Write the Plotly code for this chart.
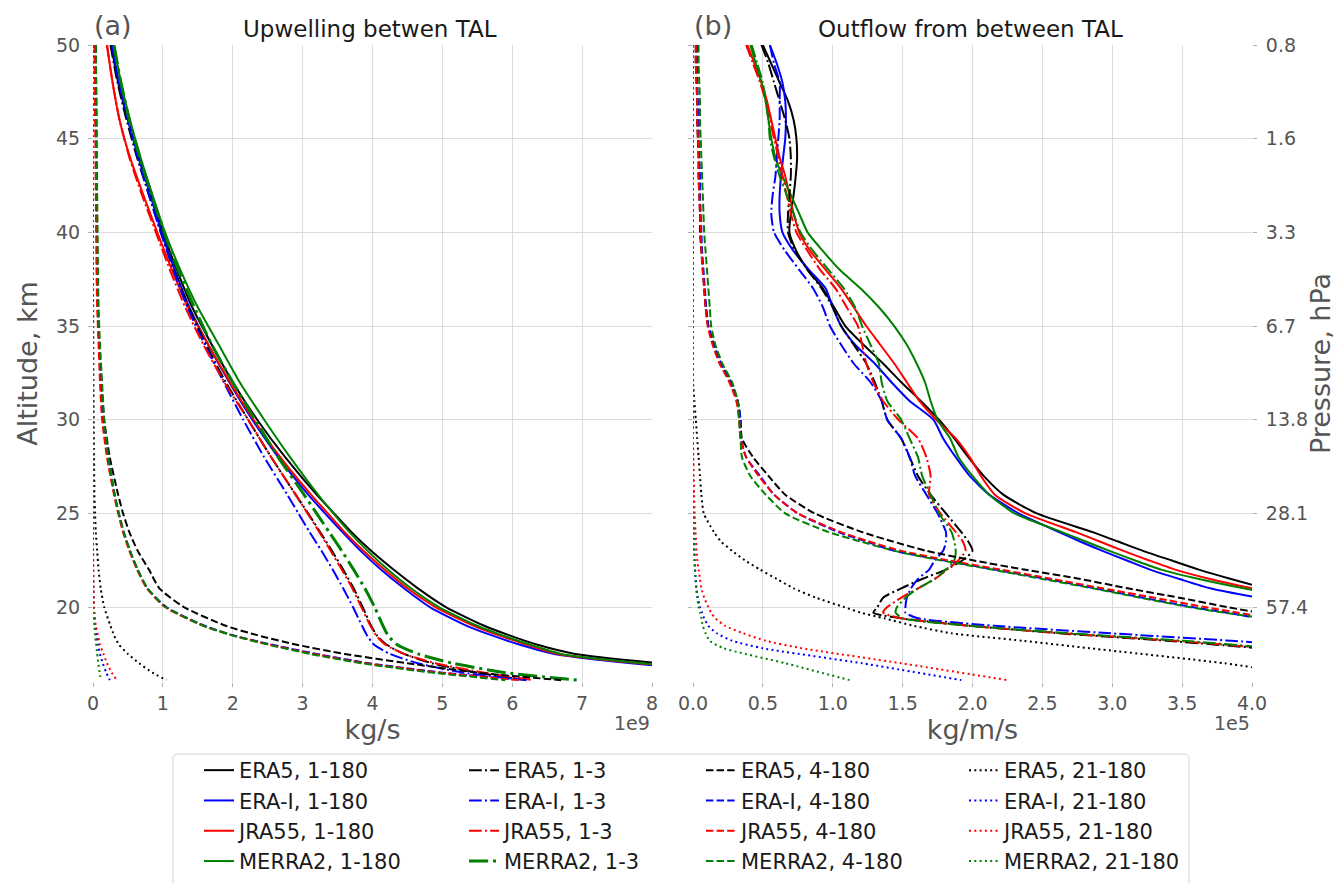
import plotly.graph_objects as go

W, H = 1336, 883

# ---------------- data ----------------
# Panel (a): altitude levels (km) and mass flux (units of 1e9 kg/s)
ALT_A = [50, 48, 46, 44, 42, 40, 38, 36, 34, 32, 30, 28, 26, 25, 24, 23, 22, 21, 20, 19, 18.5, 18, 17.5, 17, 16.5, 16.1]

A_ERA5_1_180 = [0.26, 0.36, 0.50, 0.66, 0.83, 1.00, 1.20, 1.42, 1.70, 2.00, 2.35, 2.75, 3.20, 3.45, 3.70, 3.98, 4.30, 4.65, 5.05, 5.60, 5.95, 6.35, 6.90, 8.10, 9.60, 11.5]
A_ERAI_1_180 = [0.27, 0.37, 0.50, 0.65, 0.82, 0.98, 1.17, 1.38, 1.65, 1.95, 2.28, 2.65, 3.08, 3.32, 3.57, 3.83, 4.12, 4.45, 4.82, 5.35, 5.70, 6.10, 6.60, 7.70, 9.20, 10.5]
A_JRA55_1_180 = [0.20, 0.28, 0.38, 0.53, 0.72, 0.92, 1.13, 1.36, 1.65, 1.96, 2.30, 2.68, 3.12, 3.36, 3.60, 3.87, 4.17, 4.50, 4.90, 5.45, 5.80, 6.20, 6.65, 7.80, 9.30, 10.6]
A_MERRA2_1_180 = [0.30, 0.40, 0.53, 0.68, 0.85, 1.03, 1.25, 1.50, 1.80, 2.10, 2.45, 2.82, 3.22, 3.44, 3.67, 3.93, 4.22, 4.55, 4.95, 5.50, 5.85, 6.25, 6.70, 7.85, 9.40, 10.7]

A_ERA5_1_3 = [0.25, 0.35, 0.48, 0.63, 0.80, 0.97, 1.16, 1.37, 1.62, 1.90, 2.22, 2.55, 2.90, 3.08, 3.25, 3.42, 3.58, 3.73, 3.86, 3.98, 4.06, 4.20, 4.45, 4.85, 5.50, 6.20]
A_ERAI_1_3 = [0.27, 0.37, 0.50, 0.64, 0.80, 0.97, 1.15, 1.35, 1.60, 1.87, 2.15, 2.45, 2.78, 2.94, 3.10, 3.27, 3.43, 3.58, 3.72, 3.85, 3.92, 4.02, 4.25, 4.65, 5.30, 6.20]
A_JRA55_1_3 = [0.20, 0.28, 0.38, 0.52, 0.70, 0.90, 1.10, 1.32, 1.58, 1.88, 2.22, 2.55, 2.90, 3.07, 3.24, 3.40, 3.56, 3.71, 3.84, 3.97, 4.05, 4.18, 4.45, 4.90, 5.60, 6.30]
A_MERRA2_1_3 = [0.30, 0.40, 0.52, 0.67, 0.84, 1.02, 1.22, 1.45, 1.70, 2.00, 2.32, 2.65, 3.02, 3.20, 3.38, 3.56, 3.73, 3.89, 4.03, 4.15, 4.22, 4.35, 4.65, 5.15, 5.90, 6.95]

A_ERA5_4_180 = [0.04, 0.045, 0.05, 0.05, 0.055, 0.06, 0.065, 0.07, 0.09, 0.12, 0.16, 0.24, 0.36, 0.43, 0.52, 0.64, 0.80, 0.95, 1.30, 1.90, 2.35, 2.90, 3.60, 4.50, 5.50, 6.70]
A_ERAI_4_180 = [0.03, 0.035, 0.04, 0.045, 0.05, 0.055, 0.06, 0.07, 0.09, 0.12, 0.15, 0.22, 0.31, 0.37, 0.44, 0.53, 0.64, 0.78, 1.05, 1.60, 2.00, 2.55, 3.20, 3.95, 5.00, 6.20]
A_JRA55_4_180 = [0.02, 0.025, 0.03, 0.035, 0.04, 0.045, 0.05, 0.06, 0.08, 0.10, 0.13, 0.20, 0.30, 0.36, 0.43, 0.52, 0.63, 0.77, 1.03, 1.58, 1.98, 2.52, 3.15, 3.90, 4.95, 6.10]
A_MERRA2_4_180 = [0.04, 0.045, 0.05, 0.055, 0.06, 0.065, 0.07, 0.08, 0.10, 0.13, 0.16, 0.22, 0.31, 0.37, 0.44, 0.53, 0.64, 0.78, 1.04, 1.58, 1.98, 2.50, 3.10, 3.85, 4.85, 5.90]

A_ERA5_21_180 = [0, 0, 0, 0, 0, 0, 0, 0.002, 0.004, 0.006, 0.01, 0.015, 0.02, 0.03, 0.04, 0.06, 0.08, 0.11, 0.16, 0.25, 0.30, 0.37, 0.50, 0.66, 0.85, 1.05]
A_ERAI_21_180 = [0, 0, 0, 0, 0, 0, 0, 0, 0, 0, 0, 0, 0, 0, 0, 0.001, 0.002, 0.005, 0.01, 0.03, 0.05, 0.07, 0.10, 0.14, 0.19, 0.24]
A_JRA55_21_180 = [0, 0, 0, 0, 0, 0, 0, 0, 0, 0, 0, 0, 0, 0, 0, 0.002, 0.004, 0.008, 0.015, 0.04, 0.07, 0.10, 0.15, 0.20, 0.27, 0.34]
A_MERRA2_21_180 = [0, 0, 0, 0, 0, 0, 0, 0, 0, 0, 0, 0, 0, 0, 0, 0, 0.001, 0.002, 0.005, 0.02, 0.03, 0.045, 0.06, 0.075, 0.095, 0.115]

# Panel (b): altitude levels (km) and outflow (units of 1e5 kg/m/s)
ALT_B = [50, 49, 48, 47, 46, 45, 44, 43, 42, 41, 40, 39, 38, 37, 36, 35, 34, 33, 32, 31, 30, 29, 28, 27, 26, 25,
         24, 23.5, 23, 22.5, 22, 21.5, 21, 20.5, 20, 19.7, 19.4, 19, 18.6, 18.2, 17.8, 17, 16.1]

B_ERA5_1_180 = [0.50, 0.56, 0.62, 0.68, 0.72, 0.74, 0.745, 0.735, 0.72, 0.70, 0.69, 0.74, 0.82, 0.93, 1.01, 1.09, 1.22, 1.36, 1.49, 1.63, 1.76, 1.87, 1.97, 2.08, 2.22, 2.46,
                2.86, 3.04, 3.22, 3.42, 3.62, 3.85, 4.10, 4.40, 4.80, 5.00, 5.30, 5.70, 6.10, 6.60, 7.10, 8.20, 10.0]
B_ERAI_1_180 = [0.55, 0.60, 0.64, 0.66, 0.665, 0.66, 0.645, 0.63, 0.62, 0.62, 0.64, 0.72, 0.83, 0.95, 1.00, 1.06, 1.16, 1.30, 1.42, 1.55, 1.72, 1.79, 1.88, 1.98, 2.12, 2.33,
                2.62, 2.77, 2.93, 3.10, 3.27, 3.48, 3.70, 4.05, 4.50, 4.75, 5.00, 5.40, 5.80, 6.30, 6.80, 8.00, 10.0]
B_JRA55_1_180 = [0.39, 0.44, 0.49, 0.53, 0.56, 0.59, 0.62, 0.66, 0.69, 0.72, 0.76, 0.84, 0.95, 1.06, 1.15, 1.24, 1.34, 1.44, 1.53, 1.62, 1.74, 1.88, 1.98, 2.06, 2.16, 2.38,
                 2.74, 2.91, 3.08, 3.26, 3.45, 3.70, 4.00, 4.35, 4.70, 4.95, 5.20, 5.60, 6.00, 6.50, 7.00, 8.10, 10.0]
B_MERRA2_1_180 = [0.41, 0.45, 0.49, 0.52, 0.54, 0.56, 0.59, 0.64, 0.70, 0.76, 0.82, 0.93, 1.05, 1.20, 1.33, 1.44, 1.53, 1.60, 1.66, 1.70, 1.75, 1.84, 1.90, 2.00, 2.12, 2.30,
                  2.64, 2.81, 2.98, 3.16, 3.35, 3.62, 3.94, 4.30, 4.60, 4.85, 5.10, 5.50, 5.90, 6.40, 6.90, 8.00, 10.0]

B_ERA5_1_3 = [0.49, 0.54, 0.58, 0.62, 0.66, 0.69, 0.70, 0.70, 0.69, 0.68, 0.68, 0.73, 0.82, 0.92, 1.00, 1.06, 1.15, 1.24, 1.30, 1.35, 1.39, 1.49, 1.55, 1.61, 1.70, 1.81,
              1.92, 1.97, 2.00, 1.93, 1.81, 1.64, 1.49, 1.36, 1.32, 1.29, 1.49, 1.98, 2.62, 3.39, 4.05, 5.00, 6.00]
B_ERAI_1_3 = [0.55, 0.58, 0.62, 0.62, 0.62, 0.61, 0.60, 0.59, 0.57, 0.56, 0.58, 0.66, 0.76, 0.86, 0.93, 0.98, 1.06, 1.15, 1.27, 1.35, 1.39, 1.49, 1.55, 1.59, 1.67, 1.75,
              1.81, 1.81, 1.79, 1.73, 1.69, 1.61, 1.56, 1.53, 1.52, 1.52, 1.61, 2.16, 2.99, 3.85, 4.60, 5.50, 6.50]
B_JRA55_1_3 = [0.38, 0.43, 0.48, 0.52, 0.55, 0.58, 0.61, 0.64, 0.67, 0.70, 0.74, 0.82, 0.91, 1.02, 1.10, 1.18, 1.21, 1.24, 1.29, 1.36, 1.47, 1.61, 1.67, 1.70, 1.69, 1.77,
               1.88, 1.93, 1.95, 1.90, 1.82, 1.73, 1.61, 1.49, 1.39, 1.36, 1.49, 1.98, 2.65, 3.45, 4.10, 5.00, 6.00]
B_MERRA2_1_3 = [0.42, 0.46, 0.50, 0.52, 0.54, 0.55, 0.58, 0.62, 0.67, 0.72, 0.77, 0.86, 0.97, 1.08, 1.16, 1.21, 1.27, 1.33, 1.35, 1.39, 1.49, 1.55, 1.61, 1.64, 1.70, 1.76,
                1.85, 1.87, 1.88, 1.87, 1.81, 1.73, 1.61, 1.52, 1.46, 1.45, 1.50, 1.98, 2.70, 3.51, 4.15, 5.00, 6.00]

B_ERA5_4_180 = [0.02, 0.02, 0.025, 0.03, 0.03, 0.035, 0.04, 0.04, 0.045, 0.05, 0.05, 0.06, 0.07, 0.08, 0.09, 0.11, 0.15, 0.20, 0.27, 0.32, 0.34, 0.35, 0.43, 0.54, 0.66, 0.87,
                1.21, 1.43, 1.67, 2.00, 2.37, 2.77, 3.11, 3.48, 3.82, 4.05, 4.30, 4.70, 5.10, 5.50, 5.90, 7.00, 8.50]
B_ERAI_4_180 = [0.03, 0.03, 0.03, 0.035, 0.04, 0.04, 0.045, 0.05, 0.05, 0.055, 0.06, 0.065, 0.075, 0.085, 0.095, 0.11, 0.15, 0.20, 0.27, 0.32, 0.34, 0.345, 0.38, 0.48, 0.58, 0.75,
                1.04, 1.24, 1.44, 1.79, 2.16, 2.53, 2.88, 3.22, 3.57, 3.82, 4.05, 4.45, 4.85, 5.25, 5.60, 6.60, 8.00]
B_JRA55_4_180 = [0.02, 0.02, 0.025, 0.03, 0.03, 0.035, 0.04, 0.04, 0.045, 0.05, 0.055, 0.06, 0.07, 0.08, 0.09, 0.105, 0.14, 0.19, 0.26, 0.31, 0.33, 0.34, 0.38, 0.47, 0.58, 0.75,
                 1.06, 1.26, 1.49, 1.82, 2.20, 2.57, 2.93, 3.30, 3.66, 3.90, 4.15, 4.55, 4.95, 5.35, 5.70, 6.70, 8.00]
B_MERRA2_4_180 = [0.04, 0.04, 0.045, 0.05, 0.05, 0.055, 0.06, 0.065, 0.07, 0.075, 0.08, 0.09, 0.10, 0.11, 0.12, 0.13, 0.16, 0.21, 0.28, 0.32, 0.33, 0.34, 0.35, 0.41, 0.52, 0.66,
                  0.97, 1.20, 1.44, 1.77, 2.14, 2.50, 2.86, 3.20, 3.55, 3.80, 4.10, 4.50, 4.90, 5.30, 5.65, 6.60, 8.00]

B_ERA5_21_180 = [0.0, 0.0, 0.0, 0.0, -0.005, -0.005, -0.005, -0.005, -0.01, -0.01, -0.01, -0.01, -0.01, -0.01, -0.01, -0.01, -0.01, -0.005, 0.0, 0.01, 0.02, 0.03, 0.04, 0.05, 0.06, 0.077,
                 0.15, 0.20, 0.28, 0.37, 0.48, 0.60, 0.72, 0.88, 1.08, 1.20, 1.37, 1.58, 1.85, 2.36, 2.84, 3.80, 4.60]
B_ERAI_21_180 = [0.0, 0.0, 0.0, 0.0, 0.0, 0.0, 0.0, 0.0, 0.0, 0.0, 0.0, 0.0, 0.0, 0.0, 0.0, 0.0, 0.0, 0.0, 0.0, 0.0, 0.0, 0.0, 0.0, 0.0, 0.0, 0.002,
                 0.005, 0.007, 0.01, 0.012, 0.015, 0.02, 0.025, 0.035, 0.05, 0.065, 0.08, 0.11, 0.17, 0.28, 0.50, 1.21, 1.92]
B_JRA55_21_180 = [0.0, 0.0, 0.0, 0.0, 0.0, 0.0, 0.0, 0.0, 0.0, 0.0, 0.0, 0.0, 0.0, 0.0, 0.0, 0.0, 0.0, 0.0, 0.0, 0.0, 0.0, 0.0, 0.002, 0.005, 0.008, 0.012,
                  0.018, 0.022, 0.025, 0.03, 0.04, 0.05, 0.06, 0.08, 0.11, 0.13, 0.16, 0.23, 0.36, 0.52, 0.78, 1.49, 2.25]
B_MERRA2_21_180 = [0.0, 0.0, 0.0, 0.0, 0.0, 0.0, 0.0, 0.0, 0.0, 0.0, 0.0, 0.0, 0.0, 0.0, 0.0, 0.0, 0.0, 0.0, 0.0, 0.0, 0.0, 0.0, 0.0, 0.0, 0.0, 0.002,
                   0.004, 0.006, 0.008, 0.01, 0.013, 0.017, 0.022, 0.03, 0.04, 0.05, 0.06, 0.07, 0.09, 0.12, 0.22, 0.66, 1.12]

REANALYSES = ["ERA5", "ERA-I", "JRA55", "MERRA2"]
COLORS = ["#000000", "#0000ff", "#ff0000", "#008000"]
RANGES = ["1-180", "1-3", "4-180", "21-180"]

A_DATA = {
    "1-180": [A_ERA5_1_180, A_ERAI_1_180, A_JRA55_1_180, A_MERRA2_1_180],
    "1-3": [A_ERA5_1_3, A_ERAI_1_3, A_JRA55_1_3, A_MERRA2_1_3],
    "4-180": [A_ERA5_4_180, A_ERAI_4_180, A_JRA55_4_180, A_MERRA2_4_180],
    "21-180": [A_ERA5_21_180, A_ERAI_21_180, A_JRA55_21_180, A_MERRA2_21_180],
}
B_DATA = {
    "1-180": [B_ERA5_1_180, B_ERAI_1_180, B_JRA55_1_180, B_MERRA2_1_180],
    "1-3": [B_ERA5_1_3, B_ERAI_1_3, B_JRA55_1_3, B_MERRA2_1_3],
    "4-180": [B_ERA5_4_180, B_ERAI_4_180, B_JRA55_4_180, B_MERRA2_4_180],
    "21-180": [B_ERA5_21_180, B_ERAI_21_180, B_JRA55_21_180, B_MERRA2_21_180],
}

ALT_TICKS = [20, 25, 30, 35, 40, 45, 50]
PRESSURE_LABELS = ["57.4", "28.1", "13.8", "6.7", "3.3", "1.6", "0.8"]
XA_TICKS = [0, 1, 2, 3, 4, 5, 6, 7, 8]
XB_TICKS = [0.0, 0.5, 1.0, 1.5, 2.0, 2.5, 3.0, 3.5, 4.0]

# ---------------- styling ----------------
FONT = "DejaVu Sans"
GRAY = "#555555"
TITLE_SIZE = 27


def dash_for(rng, lw):
    if rng == "1-180":
        return "solid"
    pats = {"1-3": [6.4, 1.6, 1.0, 1.6], "4-180": [3.7, 1.6], "21-180": [1.0, 1.65]}[rng]
    return ",".join(f"{p * lw:.1f}px" for p in pats)


def px_x(p):
    return p / W


def px_y(p):
    return 1 - p / H


fig = go.Figure()

legend_names = {"1-180": "legend", "1-3": "legend2", "4-180": "legend3", "21-180": "legend4"}

for rng in RANGES:
    for i, name in enumerate(REANALYSES):
        lw = 3 if (rng == "1-3" and name == "MERRA2") else 2
        fig.add_trace(go.Scatter(
            x=A_DATA[rng][i], y=ALT_A, mode="lines",
            line=dict(color=COLORS[i], width=lw, dash=dash_for(rng, lw), shape="spline", smoothing=0.6),
            name=f"{name}, {rng}", legend=legend_names[rng], showlegend=True,
            xaxis="x", yaxis="y",
        ))
for rng in RANGES:
    for i, name in enumerate(REANALYSES):
        fig.add_trace(go.Scatter(
            x=B_DATA[rng][i], y=ALT_B, mode="lines",
            line=dict(color=COLORS[i], width=2, dash=dash_for(rng, 2), shape="spline", smoothing=0.6),
            name=f"{name}, {rng}", showlegend=False,
            xaxis="x2", yaxis="y2",
        ))

# invisible trace to activate the pressure axis
fig.add_trace(go.Scatter(x=[None], y=[None], xaxis="x2", yaxis="y3", showlegend=False, hoverinfo="skip"))

YDOM = [px_y(682), px_y(45)]
common_axis = dict(
    automargin=False,
    showline=False, zeroline=False, showgrid=True, gridcolor="#dcdcdc", gridwidth=1,
    ticks="outside", ticklen=4, tickwidth=1, tickcolor="#b0b0b0",
    tickfont=dict(family=FONT, size=19, color=GRAY),
)

fig.update_layout(
    template="none",
    width=W, height=H,
    margin=dict(l=0, r=0, t=0, b=0, pad=0, autoexpand=False),
    paper_bgcolor="white", plot_bgcolor="white",
    font=dict(family=FONT, color=GRAY),
    xaxis=dict(domain=[px_x(93), px_x(652)], range=[0, 8], tickvals=XA_TICKS, anchor="y",
               title=dict(text="kg/s", font=dict(size=TITLE_SIZE, color=GRAY), standoff=1), **common_axis),
    yaxis=dict(domain=YDOM, range=[16, 50], tickvals=ALT_TICKS, anchor="x", ticklabelstandoff=4,
               title=dict(text="Altitude, km", font=dict(size=TITLE_SIZE, color=GRAY), standoff=10), **common_axis),
    xaxis2=dict(domain=[px_x(693), px_x(1252)], range=[0, 4], tickvals=XB_TICKS, tickformat=".1f", anchor="y2",
                title=dict(text="kg/m/s", font=dict(size=TITLE_SIZE, color=GRAY), standoff=1), **common_axis),
    yaxis2=dict(domain=YDOM, range=[16, 50], tickvals=ALT_TICKS, anchor="x2", showticklabels=False, **common_axis),
    yaxis3=dict(range=[16, 50], tickvals=ALT_TICKS, ticktext=PRESSURE_LABELS, overlaying="y2", side="right",
                anchor="x2", automargin=False, showgrid=False, zeroline=False, showline=False, ticks="outside",
                ticklen=4, tickcolor="#b0b0b0", ticklabelstandoff=5,
                tickfont=dict(family=FONT, size=19, color=GRAY),
                title=dict(text="Pressure, hPa", font=dict(size=TITLE_SIZE, color=GRAY), standoff=4)),
)

leg_common = dict(xanchor="left", yanchor="top", orientation="v", bgcolor="rgba(0,0,0,0)",
                  borderwidth=0, tracegroupgap=0,
                  font=dict(family=FONT, size=21, color="#1a1a1a"))
leg_text_x = [239, 504, 741, 1004]
for key, tx in zip(["legend", "legend2", "legend3", "legend4"], leg_text_x):
    fig.update_layout({key: dict(x=px_x(tx - 40), y=px_y(750), **leg_common)})

# legend frame (rounded)
x0, x1, y0, y1, r = 173, 1189, 754, 895, 5
path = (f"M {px_x(x0)},{px_y(y1)} L {px_x(x0)},{px_y(y0 + r)} Q {px_x(x0)},{px_y(y0)} {px_x(x0 + r)},{px_y(y0)} "
        f"L {px_x(x1 - r)},{px_y(y0)} Q {px_x(x1)},{px_y(y0)} {px_x(x1)},{px_y(y0 + r)} L {px_x(x1)},{px_y(y1)}")
fig.add_shape(type="path", path=path, xref="paper", yref="paper",
              line=dict(color="rgba(200,200,200,0.8)", width=1), layer="above")

annotations = [
    dict(text="(a)", x=px_x(92), y=px_y(26), xanchor="left", yanchor="middle", font=dict(size=27, color=GRAY)),
    dict(text="Upwelling betwen TAL", x=px_x(370), y=px_y(29), xanchor="center", yanchor="middle",
         font=dict(size=23, color="#1a1a1a")),
    dict(text="(b)", x=px_x(692), y=px_y(26), xanchor="left", yanchor="middle", font=dict(size=27, color=GRAY)),
    dict(text="Outflow from between TAL", x=px_x(970), y=px_y(29), xanchor="center", yanchor="middle",
         font=dict(size=23, color="#1a1a1a")),
    dict(text="1e9", x=px_x(652), y=px_y(723), xanchor="right", yanchor="middle", font=dict(size=19, color=GRAY)),
    dict(text="1e5", x=px_x(1252), y=px_y(723), xanchor="right", yanchor="middle", font=dict(size=19, color=GRAY)),
]
for a in annotations:
    a.update(xref="paper", yref="paper", showarrow=False)
    a["font"]["family"] = FONT
fig.update_layout(annotations=annotations)

fig.write_html("out.html")
